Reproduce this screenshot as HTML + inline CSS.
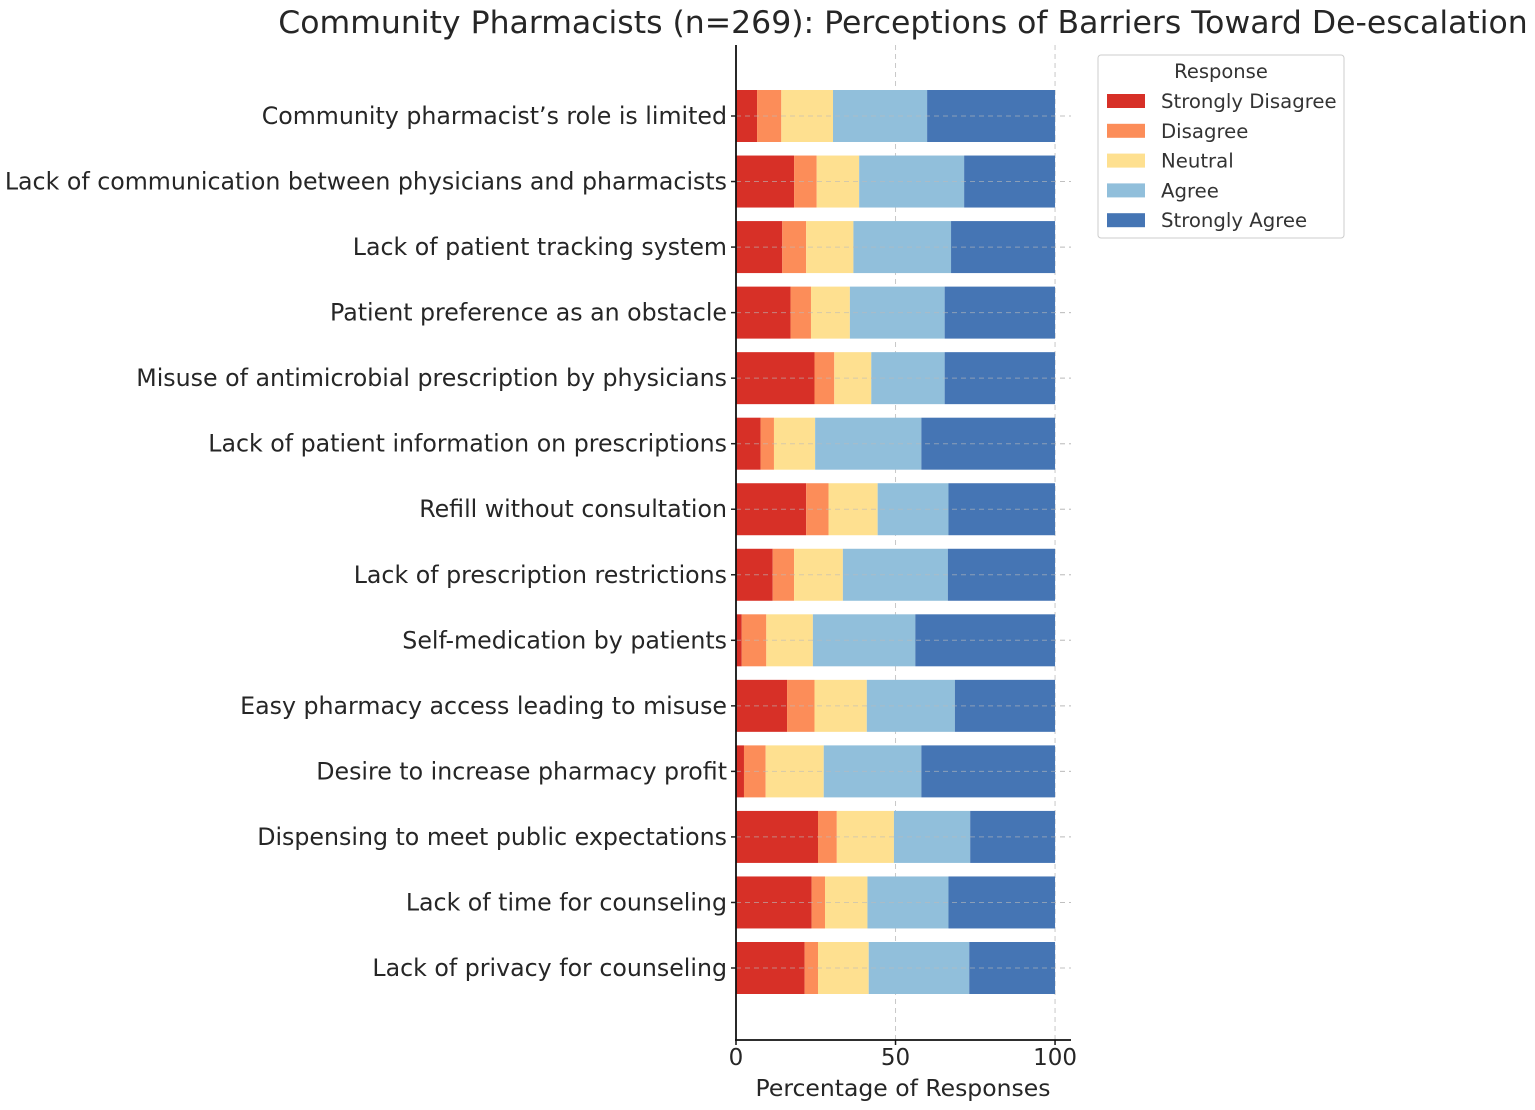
<!DOCTYPE html>
<html><head><meta charset="utf-8"><style>
html,body{margin:0;padding:0;background:#fff;}
svg{display:block;font-family:"DejaVu Sans","Liberation Sans",sans-serif;}
</style></head><body>
<svg id="chart" width="1535" height="1110" viewBox="0 0 1535 1110">
<text x="903" y="33" font-size="31.5" text-anchor="middle" fill="#262626">Community Pharmacists (n=269): Perceptions of Barriers Toward De-escalation</text>
<g id="grid"></g><g id="bars"></g><g id="axes"></g>
<g>
<rect x="1098" y="55" width="246" height="183" rx="3" fill="#fff" stroke="#ccc"/>
<text x="1221" y="78" font-size="19.5" text-anchor="middle" fill="#333">Response</text>
<g id="legend-items"></g>
</g>
</svg>
<script>
const categories=["Community pharmacist’s role is limited","Lack of communication between physicians and pharmacists","Lack of patient tracking system","Patient preference as an obstacle","Misuse of antimicrobial prescription by physicians","Lack of patient information on prescriptions","Refill without consultation","Lack of prescription restrictions","Self-medication by patients","Easy pharmacy access leading to misuse","Desire to increase pharmacy profit","Dispensing to meet public expectations","Lack of time for counseling","Lack of privacy for counseling"];
const seriesNames=["Strongly Disagree","Disagree","Neutral","Agree","Strongly Agree"];
const strongDisagree=[6.6,18.2,14.5,17.1,24.6,7.7,22.0,11.5,1.8,16.0,2.5,25.7,23.7,21.5];
const disagree=[7.6,7.1,7.5,6.4,6.2,4.2,7.0,6.7,7.7,8.6,6.8,5.9,4.2,4.2];
const neutral=[16.2,13.3,14.8,12.2,11.6,12.9,15.4,15.3,14.6,16.4,18.2,17.9,13.3,15.9];
const agree=[29.5,32.9,30.6,29.7,23.0,33.3,22.2,32.9,32.1,27.6,30.6,23.9,25.4,31.5];
const strongAgree=[40.1,28.5,32.6,34.6,34.6,41.9,33.4,33.6,43.8,31.4,41.9,26.6,33.4,26.9];
const xTicks=[0,50,100];
const colors=["#d73027","#fc8d59","#fee090","#91bfdb","#4575b4"];
const series=[strongDisagree,disagree,neutral,agree,strongAgree];
const NS="http://www.w3.org/2000/svg";
const X0=736,X1=1071,XMAX=105;
const xs=v=>X0+v/XMAX*(X1-X0);
const Y0=116,Y13=968;
const ys=i=>Y0+i*(Y13-Y0)/(categories.length-1);
const BH=52;
function mk(t,a,p){const e=document.createElementNS(NS,t);for(const k in a)e.setAttribute(k,a[k]);p.appendChild(e);return e;}
const grid=document.getElementById('grid'),bars=document.getElementById('bars'),axes=document.getElementById('axes');
xTicks.forEach(t=>{if(t===0)return;const l=mk('line',{x1:xs(t),x2:xs(t),y1:45,y2:1040,stroke:'#c8c8c8','stroke-dasharray':'5,4','stroke-width':1},grid);

});
categories.forEach((c,i)=>{const l=mk('line',{x1:X0,x2:X1,y1:ys(i),y2:ys(i),stroke:'#c8c8c8','stroke-dasharray':'5,4','stroke-width':1},grid);

});
categories.forEach((c,i)=>{let cum=0;series.forEach((s,j)=>{const r=mk('rect',{x:xs(cum),y:ys(i)-BH/2,width:xs(cum+s[i])-xs(cum),height:BH,fill:colors[j]},bars);


cum+=s[i];});
const t=mk('text',{x:727,y:ys(i)+8,'font-size':23.7,'text-anchor':'end',fill:'#262626'},axes);t.textContent=c;


const tk=mk('line',{x1:X0-5,x2:X0,y1:ys(i),y2:ys(i),stroke:'#222','stroke-width':1.5},axes);

});
categories.forEach((c,i)=>{const l=mk('line',{x1:X0,x2:X1,y1:ys(i),y2:ys(i),stroke:'#bbb','stroke-dasharray':'5,4','stroke-width':1,opacity:0.6},axes);

});
const ly=mk('line',{x1:X0,x2:X0,y1:45,y2:1040,stroke:'#111','stroke-width':1.8},axes);


const lx=mk('line',{x1:X0-1,x2:X1,y1:1040,y2:1040,stroke:'#111','stroke-width':1.8},axes);


xTicks.forEach(t=>{const k=mk('line',{x1:xs(t),x2:xs(t),y1:1040,y2:1045,stroke:'#111','stroke-width':1.5},axes);


const tt=mk('text',{x:xs(t),y:1065,'font-size':23,'text-anchor':'middle',fill:'#262626'},axes);tt.textContent=t;

});
const xl=mk('text',{x:903,y:1096,'font-size':23.5,'text-anchor':'middle',fill:'#262626'},axes);xl.textContent='Percentage of Responses';


const li=document.getElementById('legend-items');
seriesNames.forEach((n,j)=>{const y=101+j*29.8;
const r=mk('rect',{x:1107,y:y-7,width:38,height:14,fill:colors[j]},li);


const t=mk('text',{x:1161,y:y+7,'font-size':19.7,fill:'#333'},li);t.textContent=n;

});
</script>
</body></html>
